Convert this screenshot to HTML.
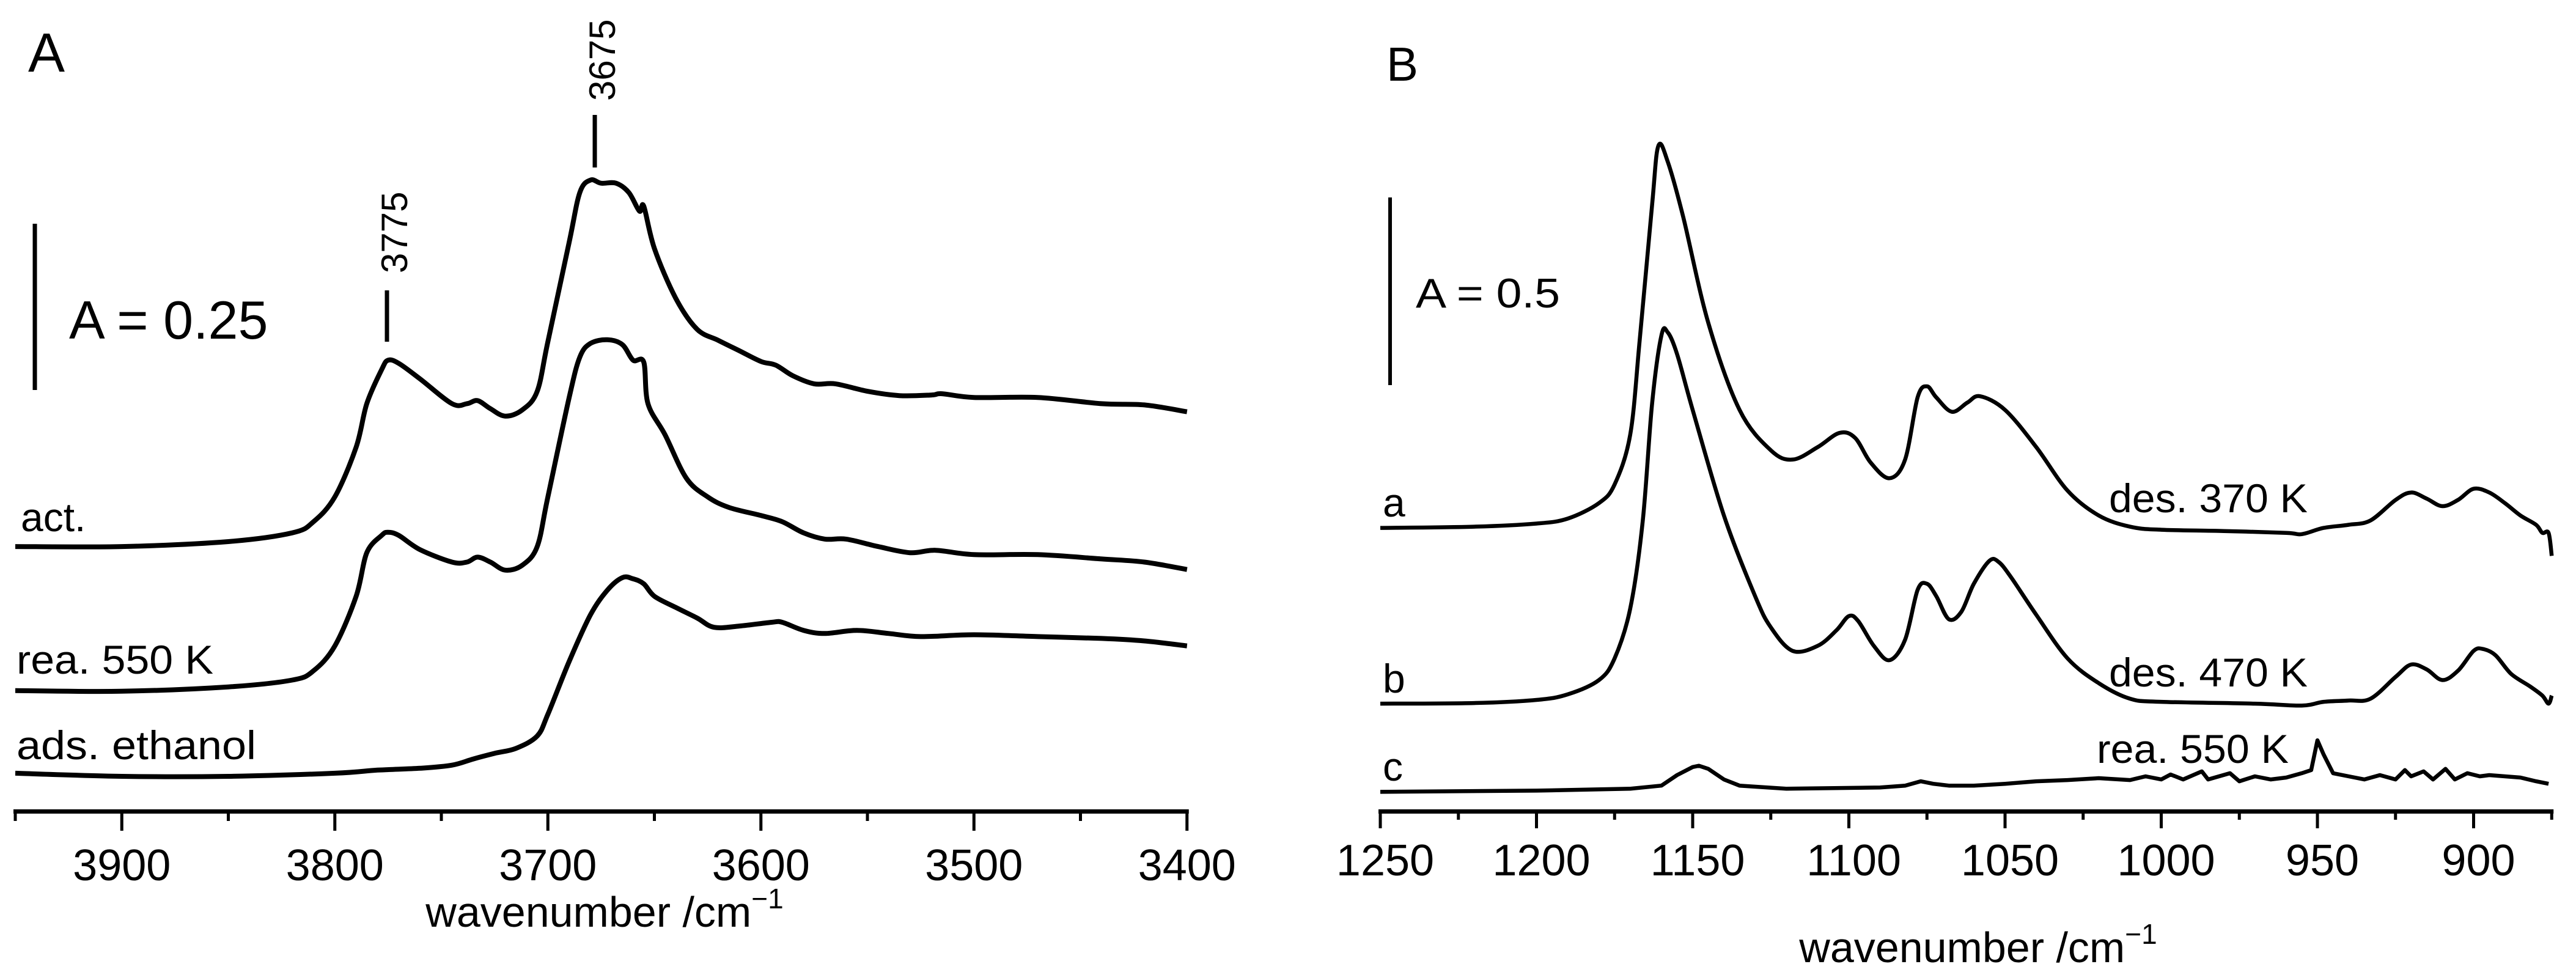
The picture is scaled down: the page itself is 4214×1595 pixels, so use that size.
<!DOCTYPE html>
<html><head><meta charset="utf-8">
<style>
html,body{margin:0;padding:0;background:#fff;}
svg{display:block;font-family:"Liberation Sans",Arial,sans-serif;}
</style></head>
<body>
<svg id="fig" width="4214" height="1595" viewBox="0 0 4214 1595" xmlns="http://www.w3.org/2000/svg">
<rect width="4214" height="1595" fill="#fff"/>
<g id="panelA"></g>
<g id="panelB"></g>
</svg>
<script>
// ---------- Panel A data (arbitrary absorbance units, offset included) ----------
const actWn = [3950,3900,3850,3820,3810,3800,3790,3785,3778,3775,3770,3760,3745,3738,3733,3727,3720,3712,3705,3700,3690,3685,3680,3675,3668,3662,3657,3655,3650,3640,3630,3620,3610,3600,3593,3585,3575,3565,3550,3535,3520,3515,3500,3470,3440,3420,3400];
const actAbs = [420,420,428,442,460,500,580,650,705,720,715,690,650,650,655,642,630,640,670,750,910,990,1010,1005,1005,990,960,968,900,820,770,752,735,718,712,695,682,682,670,663,664,666,660,660,650,648,637];
const reaWn = [3950,3900,3850,3820,3810,3800,3790,3785,3778,3775,3770,3760,3745,3738,3733,3727,3720,3712,3705,3700,3690,3685,3680,3672,3665,3660,3655,3653,3645,3635,3625,3615,3600,3590,3580,3570,3560,3545,3530,3518,3500,3470,3440,3420,3400];
const reaAbs = [188,187,194,205,220,260,340,410,438,443,438,415,395,395,403,395,382,390,420,500,660,725,747,753,745,720,717,650,600,530,500,483,470,460,442,432,432,420,410,414,407,407,400,395,383];
const adsWn = [3950,3900,3850,3800,3780,3760,3745,3735,3725,3715,3705,3700,3690,3680,3672,3665,3660,3655,3650,3640,3630,3622,3610,3595,3590,3580,3570,3555,3540,3525,3500,3470,3440,3420,3400];
const adsAbs = [55,50,50,55,60,63,68,78,87,95,115,150,235,310,350,370,368,360,340,322,305,290,292,298,298,285,280,285,280,275,278,275,272,268,260];
const ticksA = [3900,3800,3700,3600,3500,3400];
const minorA = [3950,3850,3750,3650,3550,3450];
// ---------- Panel B data ----------
const aWn = [1250,1220,1200,1190,1180,1175,1170,1167,1163,1161,1158,1153,1145,1135,1125,1118,1110,1103,1098,1093,1087,1082,1078,1075,1072,1067,1062,1058,1050,1040,1030,1020,1010,1000,980,960,955,948,940,933,925,920,915,910,905,900,895,890,885,880,878,876,875];
const aAbs = [450,452,457,465,490,520,600,750,970,1065,1040,950,780,640,575,560,580,603,595,555,530,560,660,678,660,637,652,662,640,580,510,470,452,447,445,442,440,450,455,462,495,507,497,485,495,513,507,490,470,455,442,442,405];
const bWn = [1250,1220,1200,1190,1180,1175,1170,1166,1163,1160,1158,1155,1150,1140,1130,1125,1118,1110,1104,1100,1097,1092,1087,1082,1078,1075,1072,1068,1064,1060,1055,1052,1048,1040,1030,1020,1010,1000,970,955,948,940,933,925,920,915,910,905,900,897,893,888,882,878,876,875];
const bAbs = [167,168,173,182,205,240,320,460,650,760,765,730,640,470,340,290,252,260,285,308,300,260,237,270,350,360,340,303,315,360,397,395,370,310,240,200,175,170,167,164,170,172,175,210,230,222,205,220,252,255,245,215,195,180,167,180];
const cWn = [1250,1200,1170,1160,1155,1150,1148,1145,1140,1135,1120,1090,1082,1077,1073,1068,1060,1050,1040,1030,1020,1010,1005,1000,997,993,987,985,978,975,970,965,960,955,952,950,948,945,940,935,930,925,922,920,916,913,909,906,902,898,895,890,885,880,876];
const cAbs = [25,27,30,35,52,65,67,62,45,35,30,32,35,42,38,35,35,38,42,44,47,44,50,45,53,45,58,45,55,42,50,45,48,55,60,108,85,55,50,45,52,45,60,50,58,45,62,45,55,50,52,50,48,42,38];
const ticksB = [1250,1200,1150,1100,1050,1000,950,900];
const minorB = [1225,1175,1125,1075,1025,975,925,875];

const NS = "http://www.w3.org/2000/svg";
const xA = w => 25 + (3950 - w) * 3.485;
const xB = w => 2258 + (1250 - w) * 5.11;
const yS = v => (1300 - v) * 1.016;

function mk(parent, tag, attrs, text) {
  const e = document.createElementNS(NS, tag);
  for (const k in attrs) e.setAttribute(k, attrs[k]);
  if (text !== undefined) e.textContent = text;
  parent.appendChild(e);
  return e;
}
function smoothPath(pts) {
  let d = `M${pts[0][0].toFixed(1)},${pts[0][1].toFixed(1)}`;
  for (let i = 0; i < pts.length - 1; i++) {
    const p0 = pts[Math.max(0, i - 1)], p1 = pts[i], p2 = pts[i + 1], p3 = pts[Math.min(pts.length - 1, i + 2)];
    const c1 = [p1[0] + (p2[0] - p0[0]) / 6, p1[1] + (p2[1] - p0[1]) / 6];
    const c2 = [p2[0] - (p3[0] - p1[0]) / 6, p2[1] - (p3[1] - p1[1]) / 6];
    d += ` C${c1[0].toFixed(1)},${c1[1].toFixed(1)} ${c2[0].toFixed(1)},${c2[1].toFixed(1)} ${p2[0].toFixed(1)},${p2[1].toFixed(1)}`;
  }
  return d;
}
function linePath(pts) {
  return pts.map((p, i) => (i ? 'L' : 'M') + p[0].toFixed(1) + ',' + p[1].toFixed(1)).join(' ');
}

const gA = document.getElementById('panelA');
const gB = document.getElementById('panelB');

// ---- Panel A ----
let el;
el = mk(gA, 'text', {x: 46, y: 117, 'font-size': 90}, 'A');


el = mk(gA, 'line', {x1: 57, y1: 366, x2: 57, y2: 638, stroke: '#000', 'stroke-width': 7});


el = mk(gA, 'text', {x: 113, y: 554, 'font-size': 88}, 'A = 0.25');



[[actWn, actAbs, 'spectrum-act'], [reaWn, reaAbs, 'spectrum-rea-550k'], [adsWn, adsAbs, 'spectrum-ads-ethanol']].forEach(s => {
  const pts = s[0].map((w, i) => [xA(w), yS(s[1][i])]);
  const p = mk(gA, 'path', {d: smoothPath(pts), fill: 'none', stroke: '#000', 'stroke-width': 8, 'stroke-linejoin': 'round'});
  
  
});
[['act.', 34, 869, 'label-act', 0], ['rea. 550 K', 27, 1102, 'label-rea-550k', 322], ['ads. ethanol', 27, 1242, 'label-ads-ethanol', 392]].forEach(t => {
  const at = {x: t[1], y: t[2], 'font-size': 66};
  if (t[4]) { at.textLength = t[4]; at.lengthAdjust = 'spacingAndGlyphs'; }
  const e = mk(gA, 'text', at, t[0]);
  
  
});
// peak markers
el = mk(gA, 'line', {x1: 633, y1: 475, x2: 633, y2: 559, stroke: '#000', 'stroke-width': 7});


el = mk(gA, 'text', {x: 0, y: 0, 'font-size': 60, transform: 'translate(666,447) rotate(-90)'}, '3775');


el = mk(gA, 'line', {x1: 973, y1: 188, x2: 973, y2: 274, stroke: '#000', 'stroke-width': 7});


el = mk(gA, 'text', {x: 0, y: 0, 'font-size': 60, transform: 'translate(1006,165) rotate(-90)'}, '3675');


// axis A
el = mk(gA, 'line', {x1: xA(3950) - 3, y1: 1327.5, x2: xA(3400) + 3, y2: 1327.5, stroke: '#000', 'stroke-width': 7});


ticksA.forEach(w => {
  const t = mk(gA, 'line', {x1: xA(w), y1: 1327, x2: xA(w), y2: 1359, stroke: '#000', 'stroke-width': 5});
  
  
  const l = mk(gA, 'text', {x: xA(w), y: 1440, 'font-size': 72, 'text-anchor': 'middle'}, String(w));
  
  
});
minorA.forEach(w => {
  const t = mk(gA, 'line', {x1: xA(w), y1: 1327, x2: xA(w), y2: 1343, stroke: '#000', 'stroke-width': 5});
  
  
});
el = mk(gA, 'text', {x: 989, y: 1516, 'font-size': 70, 'text-anchor': 'middle'});


el.innerHTML = 'wavenumber /cm<tspan dy="-30" font-size="46">−1</tspan>';

// ---- Panel B ----
el = mk(gB, 'text', {x: 2268, y: 132, 'font-size': 78}, 'B');


el = mk(gB, 'line', {x1: 2274, y1: 323, x2: 2274, y2: 630, stroke: '#000', 'stroke-width': 6});


el = mk(gB, 'text', {x: 2316, y: 503, 'font-size': 68, textLength: 236, lengthAdjust: 'spacingAndGlyphs'}, 'A = 0.5');



[[aWn, aAbs, 'spectrum-a-des-370k', true], [bWn, bAbs, 'spectrum-b-des-470k', true], [cWn, cAbs, 'spectrum-c-rea-550k', false]].forEach(s => {
  const pts = s[0].map((w, i) => [xB(w), yS(s[1][i])]);
  const p = mk(gB, 'path', {d: s[3] ? smoothPath(pts) : linePath(pts), fill: 'none', stroke: '#000', 'stroke-width': 6.5, 'stroke-linejoin': 'round'});
  
  
});
[['a', 2262, 845, 'label-a', 0], ['b', 2262, 1133, 'label-b', 0], ['c', 2262, 1277, 'label-c', 0],
 ['des. 370 K', 3450, 838, 'label-des-370k', 325], ['des. 470 K', 3450, 1123, 'label-des-470k', 325], ['rea. 550 K', 3430, 1248, 'label-rea-550k-b', 314]].forEach(t => {
  const at = {x: t[1], y: t[2], 'font-size': 66};
  if (t[4]) { at.textLength = t[4]; at.lengthAdjust = 'spacingAndGlyphs'; }
  const e = mk(gB, 'text', at, t[0]);
  
  
});
el = mk(gB, 'line', {x1: xB(1250) - 3, y1: 1327.5, x2: xB(875) + 3, y2: 1327.5, stroke: '#000', 'stroke-width': 7});


ticksB.forEach(w => {
  const t = mk(gB, 'line', {x1: xB(w), y1: 1327, x2: xB(w), y2: 1355, stroke: '#000', 'stroke-width': 5});
  
  
  const l = mk(gB, 'text', {x: xB(w) + 8, y: 1432, 'font-size': 72, 'text-anchor': 'middle'}, String(w));
  
  
});
minorB.forEach(w => {
  const t = mk(gB, 'line', {x1: xB(w), y1: 1327, x2: xB(w), y2: 1341, stroke: '#000', 'stroke-width': 5});
  
  
});
el = mk(gB, 'text', {x: 3236, y: 1574, 'font-size': 70, 'text-anchor': 'middle'});


el.innerHTML = 'wavenumber /cm<tspan dy="-30" font-size="46">−1</tspan>';
</script>
</body></html>
